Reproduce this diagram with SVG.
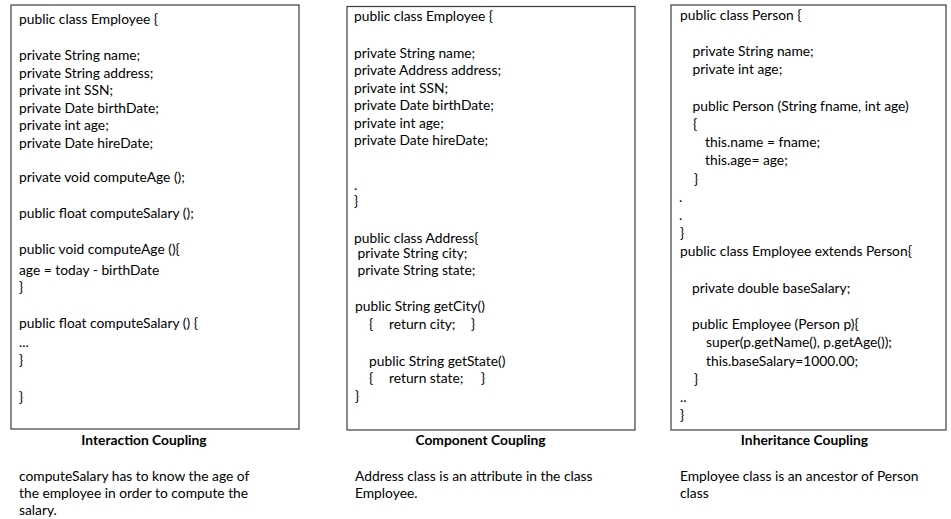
<svg xmlns="http://www.w3.org/2000/svg" width="951" height="519" viewBox="0 0 951 519">
  <style>
    .frame { fill: #ffffff; stroke: #3c3c3c; stroke-width: 1.2; }
    text { font-family: Lato, "Liberation Sans", sans-serif; font-size: 13.8px; fill: #000000; }
    .title { font-weight: bold; text-anchor: middle; }
  </style>
  <rect width="951" height="519" fill="#ffffff"/>

  <!-- Panel 1: interaction coupling -->
  <g id="interaction-panel">
    <rect class="frame" x="11" y="5" width="288" height="424"/>
    <text x="19" y="23.5">public class Employee {</text>
    <text x="19" y="59.5">private String name;</text>
    <text x="19" y="77.5">private String address;</text>
    <text x="19" y="95">private int SSN;</text>
    <text x="19" y="112.5">private Date birthDate;</text>
    <text x="19" y="130">private int age;</text>
    <text x="19" y="147.5">private Date hireDate;</text>
    <text x="19" y="182">private void computeAge ();</text>
    <text x="19" y="217.5">public float computeSalary ();</text>
    <text x="19" y="254">public void computeAge (){</text>
    <text x="19" y="274.5">age = today - birthDate</text>
    <text x="19" y="292">}</text>
    <text x="19" y="328">public float computeSalary () {</text>
    <text x="19" y="347">...</text>
    <text x="19" y="365">}</text>
    <text x="19" y="401.5">}</text>
    <text class="title" x="144" y="445">Interaction Coupling</text>
    <text x="19" y="481">computeSalary has to know the age of</text>
    <text x="19" y="498">the employee in order to compute the</text>
    <text x="19" y="514.5">salary.</text>
  </g>

  <!-- Panel 2: component coupling -->
  <g id="component-panel">
    <rect class="frame" x="347" y="6.5" width="288" height="423.5"/>
    <text x="354" y="21">public class Employee {</text>
    <text x="354" y="57.5">private String name;</text>
    <text x="354" y="75">private Address address;</text>
    <text x="354" y="92.5">private int SSN;</text>
    <text x="354" y="110">private Date birthDate;</text>
    <text x="354" y="127.5">private int age;</text>
    <text x="354" y="145">private Date hireDate;</text>
    <text x="354" y="189.5">.</text>
    <text x="354" y="205.5">}</text>
    <text x="354" y="242.5">public class Address{</text>
    <text x="357.5" y="258">private String city;</text>
    <text x="357.5" y="275">private String state;</text>
    <text x="355" y="311">public String getCity()</text>
    <text y="329"><tspan x="369">{</tspan><tspan x="389">return city;</tspan><tspan x="471">}</tspan></text>
    <text x="369" y="365.5">public String getState()</text>
    <text y="383"><tspan x="369">{</tspan><tspan x="389">return state;</tspan><tspan x="481">}</tspan></text>
    <text x="355" y="401">}</text>
    <text class="title" x="480.5" y="445">Component Coupling</text>
    <text x="355" y="481">Address class is an attribute in the class</text>
    <text x="355" y="498">Employee.</text>
  </g>

  <!-- Panel 3: inheritance coupling -->
  <g id="inheritance-panel">
    <rect class="frame" x="671" y="5" width="275" height="425"/>
    <text x="680" y="20">public class Person  {</text>
    <text x="692.5" y="55.5">private String name;</text>
    <text x="692.5" y="74">private int age;</text>
    <text x="692.5" y="110.5">public Person (String fname, int age)</text>
    <text x="693" y="128.5">{</text>
    <text x="705" y="146.5">this.name = fname;</text>
    <text x="705" y="165">this.age= age;</text>
    <text x="694" y="183.5">}</text>
    <text x="679" y="201.5">.</text>
    <text x="679" y="219.5">.</text>
    <text x="680" y="237.5">}</text>
    <text x="680" y="256">public class Employee extends Person{</text>
    <text x="692" y="292.5">private double baseSalary;</text>
    <text x="692" y="329">public Employee (Person p){</text>
    <text x="706" y="347">super(p.getName(), p.getAge());</text>
    <text x="706" y="365.5">this.baseSalary=1000.00;</text>
    <text x="694" y="383.5">}</text>
    <text x="680" y="401.5">..</text>
    <text x="680" y="419.5">}</text>
    <text class="title" x="804.5" y="445">Inheritance Coupling</text>
    <text x="680" y="481">Employee class is an ancestor of Person</text>
    <text x="680" y="498">class</text>
  </g>
</svg>
